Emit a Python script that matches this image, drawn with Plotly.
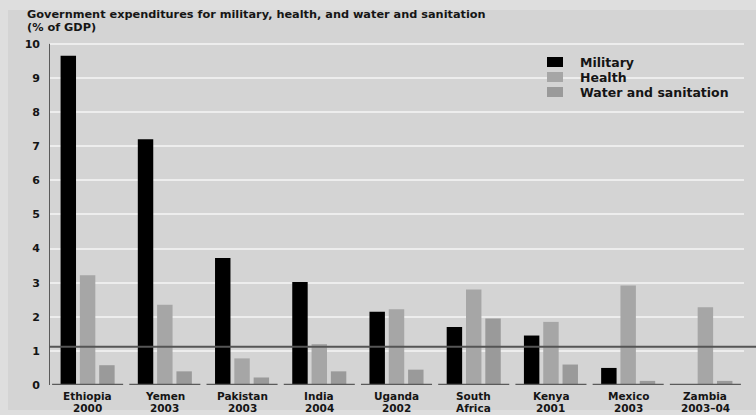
import plotly.graph_objects as go

country_names = ["Ethiopia", "Yemen", "Pakistan", "India", "Uganda", "South", "Kenya", "Mexico", "Zambia"]
country_years = ["2000", "2003", "2003", "2004", "2002", "Africa", "2001", "2003", "2003–04"]
military = [9.65, 7.2, 3.72, 3.02, 2.15, 1.7, 1.45, 0.5, 0.0]
health = [3.22, 2.35, 0.78, 1.2, 2.22, 2.8, 1.85, 2.92, 2.28]
water = [0.58, 0.4, 0.22, 0.4, 0.45, 1.95, 0.6, 0.12, 0.12]
series_names = ["Military", "Health", "Water and sanitation"]
series_colors = ["#000000", "#a6a6a6", "#9a9a9a"]
yticks = list(range(0, 11))
reference_level = 1.12
title_lines = ["Government expenditures for military, health, and water and sanitation", "(% of GDP)"]

W, H = 756, 415
ML, MR, MT, MB = 49, 12, 37, 30
pw = W - ML - MR
ph = H - MT - MB
FONT = "DejaVu Sans, Liberation Sans, Arial, sans-serif"
TXT = "#151515"

def px_x(p):
    return (p - ML) / pw

def px_y(p):
    return (H - MB - p) / ph

xs = list(range(len(country_names)))
fig = go.Figure()
for name, vals, col in zip(series_names, [military, health, water], series_colors):
    fig.add_trace(go.Bar(x=xs, y=vals, name=name, showlegend=False,
                         marker=dict(color=col, line=dict(width=0))))

shapes = []
annotations = []
# lighter outer frame
shapes.append(dict(type="rect", xref="paper", yref="paper", layer="below",
                   x0=px_x(8), x1=px_x(W + 5), y0=px_y(410), y1=px_y(10),
                   fillcolor="#d4d4d4", line=dict(width=0)))
# y axis line
shapes.append(dict(type="line", xref="x", yref="y", x0=-0.5, x1=-0.5, y0=0, y1=10,
                   line=dict(color="#5a5a5a", width=2)))
# baseline segments per category
for i in xs:
    shapes.append(dict(type="line", xref="x", yref="y", x0=i - 0.46, x1=i + 0.46, y0=0, y1=0,
                       line=dict(color="#5a5a5a", width=2.5)))
# dark reference line
shapes.append(dict(type="line", xref="paper", yref="y", x0=0, x1=px_x(W + 2),
                   y0=reference_level, y1=reference_level,
                   line=dict(color="#555555", width=2)))

# manual legend
for k, (name, col) in enumerate(zip(series_names, series_colors)):
    cy = 62 + 15 * k
    shapes.append(dict(type="rect", xref="paper", yref="paper",
                       x0=px_x(547), x1=px_x(563), y0=px_y(cy + 5), y1=px_y(cy - 5),
                       fillcolor=col, line=dict(width=0)))
    annotations.append(dict(xref="paper", yref="paper", x=px_x(578), y=px_y(cy),
                            xanchor="left", yanchor="middle", showarrow=False, text=name,
                            font=dict(size=12.5, weight="bold", color=TXT, family=FONT)))

# category labels (two lines)
for i in xs:
    annotations.append(dict(xref="x", yref="paper", x=i, y=px_y(395.5), xanchor="center",
                            yanchor="middle", showarrow=False, text=country_names[i], borderpad=0,
                            font=dict(size=10.5, weight="bold", color=TXT, family=FONT)))
    annotations.append(dict(xref="x", yref="paper", x=i, y=px_y(407.5), xanchor="center",
                            yanchor="middle", showarrow=False, text=country_years[i], borderpad=0,
                            font=dict(size=10.5, weight="bold", color=TXT, family=FONT)))

# title lines
for k, t in enumerate(title_lines):
    annotations.append(dict(xref="paper", yref="paper", x=px_x(25), y=px_y(14.5 + 13 * k),
                            xanchor="left", yanchor="middle", showarrow=False, text=t,
                            font=dict(size=11.3, weight="bold", color=TXT, family=FONT)))

fig.update_layout(
    width=W, height=H,
    margin=dict(l=ML, r=MR, t=MT, b=MB, pad=0, autoexpand=False),
    paper_bgcolor="#dedede", plot_bgcolor="#d4d4d4",
    font=dict(family=FONT, color=TXT),
    barmode="group", bargap=0.25, bargroupgap=0.2,
    showlegend=False,
    xaxis=dict(range=[-0.5, len(xs) - 0.5], showticklabels=False, showgrid=False,
               zeroline=False, showline=False, ticks="", automargin=False),
    yaxis=dict(range=[0, 10.2], tickmode="array", tickvals=yticks,
               ticktext=[str(v) for v in yticks],
               showgrid=True, gridcolor="#ededed", gridwidth=2, zeroline=False,
               showline=False, ticks="", tickfont=dict(size=11, weight="bold", color=TXT),
               ticklabelstandoff=8, automargin=False),
    shapes=shapes,
    annotations=annotations,
)

fig.write_html("out.html", config={"displayModeBar": False},
               post_script="document.body.style.margin='0';")
